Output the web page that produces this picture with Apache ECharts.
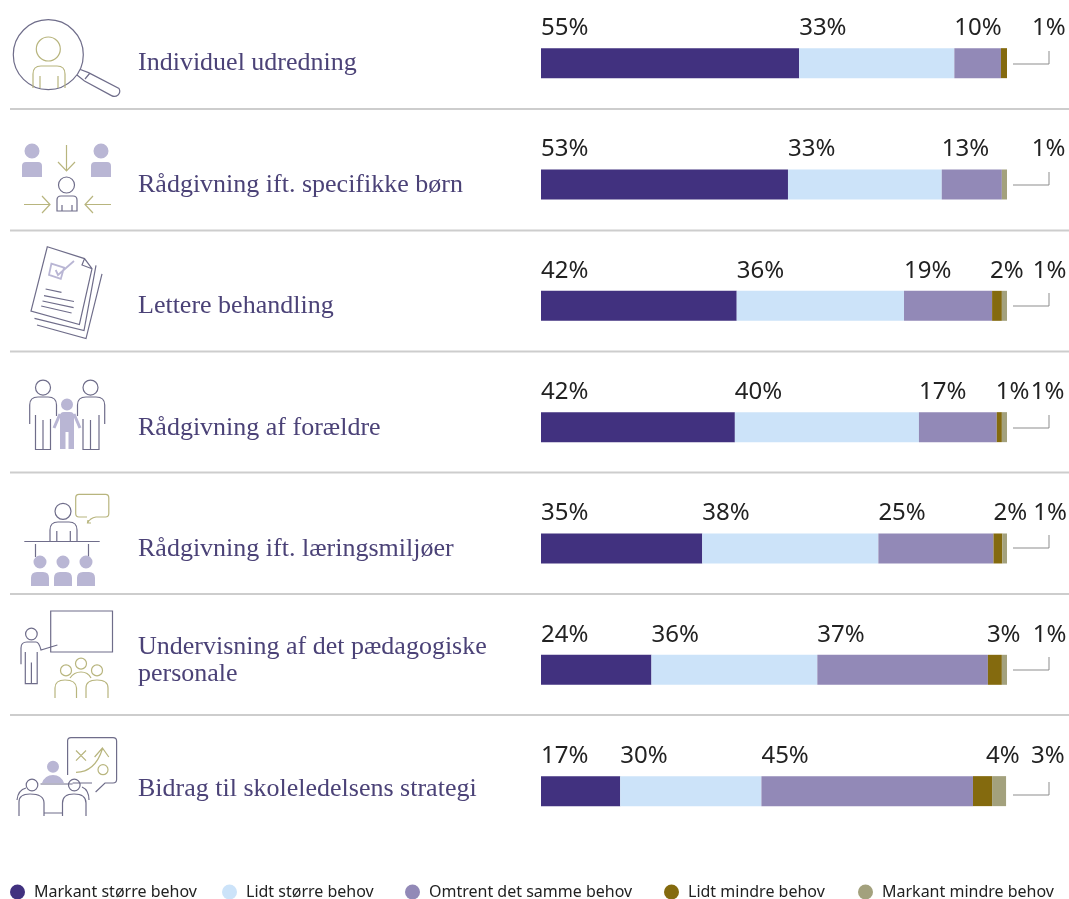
<!DOCTYPE html>
<html><head><meta charset="utf-8">
<style>html,body{margin:0;padding:0;background:#fff}#c{width:1069px;height:899px}</style>
<script src="https://cdn.jsdelivr.net/npm/echarts@6/dist/echarts.min.js"></script>
</head><body><div id="c"></div>
<script>
const categories = ['Individuel udredning','Rådgivning ift. specifikke børn','Lettere behandling','Rådgivning af forældre','Rådgivning ift. læringsmiljøer','Undervisning af det pædagogiske\npersonale','Bidrag til skoleledelsens strategi'];
const markantStorre = [55.4,53.0,42.0,41.6,34.6,23.7,17.0];
const lidtStorre    = [33.3,33.0,35.9,39.5,37.8,35.6,30.3];
const omtrentSamme  = [10.0,12.9,18.9,16.7,24.7,36.6,45.4];
const lidtMindre    = [1.3,0,2.1,1.1,1.9,3.0,4.1];
const markantMindre = [0,1.1,1.1,1.1,1.0,1.1,3.0];
const seriesNames = ['Markant større behov','Lidt større behov','Omtrent det samme behov','Lidt mindre behov','Markant mindre behov'];
const seriesValues = [markantStorre,lidtStorre,omtrentSamme,lidtMindre,markantMindre];
const seriesColors = ['#41317f','#cce3f9','#9289b7','#846a0e','#a3a17d'];
// horizontal nudge of the two tail percentage labels from the start of their segments
const tailNudge = [[31,0],[0,30],[-2,31],[-1,29],[0,31],[-1,31],[13,39]];
const labelLift = [0,0.5,0.5,1,1,-9,-2];
const legendLeft = [10,222,405,664,858];
const leaderY = [64,185,306,428,548,670,795];
const dividerY = [109,230.5,351.5,472.5,594,715];

const GREY='#6f6d8a', OLIVE='#b8b57e', LAV='#b9b6d4';
const C=(x,y,r)=>`M${x-r},${y}a${r},${r} 0 1,0 ${2*r},0a${r},${r} 0 1,0 ${-2*r},0Z`;
const icons = [
 // 1 magnifier
 [GREY, 'l', C(48.3,54.7,35)+'M79.7,69.3L88.5,72.6L119,88.5Q121,92 118,95Q115,97.5 111.5,95.6L84.5,81L77,75M85,79L90,73'],
 [OLIVE,'l', C(48.3,49,12)+'M33,88V74Q33,66 41,66H57Q65,66 65,74V88M40,88V76M58,88V76'],
 // 2 consulting
 [LAV,'f', C(32,151,7.5)+'M22,177V166Q22,162 26,162H38Q42,162 42,166V177Z'+C(101,151,7.5)+'M91,177V166Q91,162 95,162H107Q111,162 111,166V177Z'],
 [OLIVE,'l','M66.5,145V171M58,162L66.5,171L75,162M24,204.5H50M42,196L50,204.5L42,213M111,204.5H85M93,196L85,204.5L93,213'],
 [GREY,'l',C(66.5,185,8)+'M57,211V200Q57,196 61,196H73Q77,196 77,200V211ZM62,205V211M72,205V211'],
 // 3 documents
 [GREY,'l','M47.3,246.8L84.5,258.6L92,268.7L79.4,324.5L31,311ZM84.5,258.6L82,265L92,268.7M96,265.3L84,330.5L34.5,318.4M102,273.8L86,338.6L37,325M45.6,289L61.5,292.4M44,295.7L74,301.5M42.5,301L73.6,307.6M41.2,306L71.6,313'],
 [LAV,'l2','M51.4,263.6L64,267.7L60.8,278.9L49,274.8ZM55.7,270L58,275L74,261'],
 // 4 parents
 [GREY,'l',C(43,387.6,7.5)+C(90.5,387.6,7.5)+'M29.7,424V405Q29.7,397 38,397H48Q56.5,397 56.5,405V416M35.5,415V449.5H50.5V419M43,420V449.5M77.5,416V405Q77.5,397 86,397H96Q104.7,397 104.7,405V424M83,419V449.5H99V415M90.5,420V449.5'],
 [LAV,'f',C(67,404.5,6)+'M60,416Q60,412 64,412H70Q74,412 74,416V449H68.5V432H65.5V449H60Z'],
 [LAV,'l3','M60,414L54,428M74,414L80,428'],
 // 5 learning environments
 [GREY,'l',C(63,511.3,8)+'M50,541.5V530Q50,522 58,522H69Q77,522 77,530V541.5M56.8,531V541.5M70.3,531V541.5M24.3,541.5H99.7M35.5,544V557M88.5,544V557'],
 [OLIVE,'l','M79,494.4H105.5Q108.8,494.4 108.8,498V513.5Q108.8,517 105.5,517H96Q90,518 87.5,523M88,520L87.5,523H91M87,517H79Q75.7,517 75.7,513.5V498Q75.7,494.4 79,494.4'],
 [LAV,'f',C(40,562,6.5)+C(63,562,6.5)+C(86,562,6.5)+'M31,586V578Q31,572 37,572H43Q49,572 49,578V586ZM54,586V578Q54,572 60,572H66Q72,572 72,578V586ZM77,586V578Q77,572 83,572H89Q95,572 95,578V586Z'],
 // 6 teaching
 [GREY,'l','M50.7,611H112.5V652H50.7Z'+C(31.4,634,5.8)+'M21,664.3V648Q21,642 27,642H36Q39,642 41,650L57.4,645M25.3,652V683.6H37.2V652M31.4,662.6V683.6'],
 [OLIVE,'l',C(66,670.4,5.5)+C(81,663.6,5.5)+C(97,670.4,5.5)+'M55,698V688Q55,680 65,680Q76,680 76.5,688V698M86,698V688Q86,680 97,680Q108,680 108,688V698M70,678Q74,672 81,672Q88,672 91,678'],
 // 7 strategy
 [GREY,'l','M67.6,775V741Q67.6,737.6 71,737.6H113Q116.6,737.6 116.6,741V779.5Q116.6,783 113,783H105L95.6,792M40.5,784H72.6M72.6,783H92'+C(32,785,5.8)+C(74.3,785,5.8)+'M19,816V802Q19,794 30,794Q44,794 44,803V816M62.5,816V803Q62.5,794 74,794Q86,794 86,803V816M44,813H62.5M17,800Q18,790 26,788M89,800Q89,790 82,787'],
 [OLIVE,'l','M76,750.5L86,760.6M86,750.5L76,760.6M76,772.4Q95,772 102.4,749M94.6,757L102.4,748L108.8,757'+C(103,769.7,5)],
 [LAV,'f',C(53,766.7,6)+'M42,783Q45,775 53,775Q61,775 64,783Z']
];
const graphic = [];
dividerY.forEach(y=>graphic.push({type:'line',silent:true,shape:{x1:10,y1:y,x2:1069,y2:y},style:{stroke:'#cdcdcd',lineWidth:2}}));
const drawPath=(name,d,style)=>{
  echarts.graphic.registerShape(name,echarts.graphic.extendPath(d,{}));
  graphic.push({type:name,silent:true,style});
};
leaderY.forEach((y,i)=>drawPath('leader'+i,`M1013,${y}H1049V${y-13}`,{fill:null,stroke:'#8d8d8d',lineWidth:1}));
icons.forEach(([col,kind,d],i)=>drawPath('icon'+i,d,
  kind==='f'?{fill:col,stroke:null}:{fill:null,stroke:col,lineWidth:kind==='l'?1.2:kind==='l2'?1.8:3}));

const rich = {};
labelLift.forEach((v,i)=>{rich['r'+i]={fontFamily:'"Liberation Serif"',fontSize:26,color:'#4b4277',lineHeight:27,padding:[Math.max(v,0)*2,0,Math.max(-v,0)*2,0]};});

const chart = echarts.init(document.getElementById('c'),null,{renderer:'canvas'});
chart.setOption({
  animation:false,
  backgroundColor:'#fff',
  graphic,
  legend:seriesNames.map((n,i)=>({left:legendLeft[i],top:884,padding:0,icon:'circle',itemWidth:15,itemHeight:15,
    data:[n],textStyle:{fontFamily:'"Noto Sans"',fontSize:16,color:'#222',padding:[0,0,0,4]}})),
  grid:{left:541,top:2.5,width:466,height:849.3},
  xAxis:{type:'value',min:0,max:100,show:false},
  yAxis:{type:'category',inverse:true,data:categories,axisLine:{show:false},axisTick:{show:false},
    axisLabel:{margin:403,align:'left',formatter:(v,i)=>v.split('\n').map(s=>`{r${i}|${s}}`).join('\n'),rich}},
  series:seriesValues.map((vals,si)=>({
    name:seriesNames[si],type:'bar',stack:'t',barWidth:30,
    itemStyle:{color:seriesColors[si]},
    data:vals.map((v,ri)=>({value:v,label:{position:[si<3?0:tailNudge[ri][si-3],-20]}})),
    label:{show:true,align:'left',verticalAlign:'middle',fontFamily:'"Noto Sans"',fontSize:24,color:'#222',
      formatter:p=>p.value>0?Math.round(p.value)+'%':''}
  }))
});
</script></body></html>
